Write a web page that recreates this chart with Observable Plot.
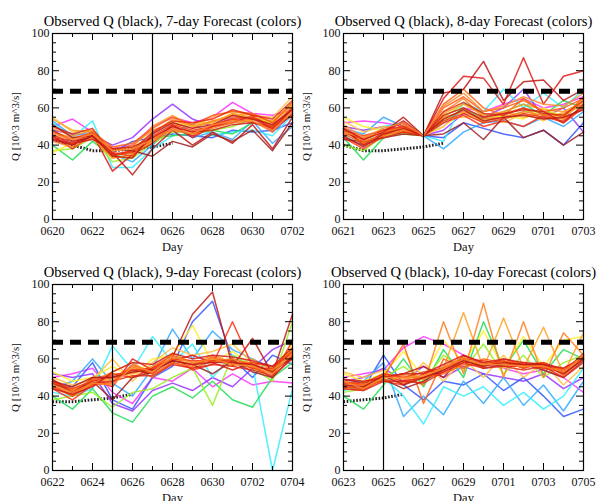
<!DOCTYPE html>
<html><head><meta charset="utf-8">
<script src="https://cdn.jsdelivr.net/npm/d3@7"></script>
<script src="https://cdn.jsdelivr.net/npm/@observablehq/plot@0.6"></script>
<style>
html,body{margin:0;padding:0;background:#fff;overflow:hidden;}
#wrap{position:relative;width:598px;height:501px;overflow:hidden;}
#wrap > div{position:absolute;}
svg text {font-family:"Liberation Serif","DejaVu Serif",serif !important;}
</style></head><body><div id="wrap"></div>
<script>
const titles = [
  "Observed Q (black), 7-day Forecast (colors)",
  "Observed Q (black), 8-day Forecast (colors)",
  "Observed Q (black), 9-day Forecast (colors)",
  "Observed Q (black), 10-day Forecast (colors)"
];
const days1 = ["0620","0621","0622","0623","0624","0625","0626","0627","0628","0629","0630","0701","0702"];
const days2 = ["0621","0622","0623","0624","0625","0626","0627","0628","0629","0630","0701","0702","0703"];
const days3 = ["0622","0623","0624","0625","0626","0627","0628","0629","0630","0701","0702","0703","0704"];
const days4 = ["0623","0624","0625","0626","0627","0628","0629","0630","0701","0702","0703","0704","0705"];
const ticks1 = ["0620","0622","0624","0626","0628","0630","0702"];
const ticks2 = ["0621","0623","0625","0627","0629","0701","0703"];
const ticks3 = ["0622","0624","0626","0628","0630","0702","0704"];
const ticks4 = ["0623","0625","0627","0629","0701","0703","0705"];
const yTickLabels = [0,20,40,60,80,100];
const obsDays = ["0620","0621","0622","0623","0624","0625","0626"];
const obsQ = [43,40,37,37,38,39,41];
const threshold = 69;
const forecastStart = "0625";
const colors = ["#ff33ff","#9933ff","#3355ff","#33aaff","#33eeff","#22dd55","#99ee22","#ffee22",
                "#ffc040","#ffa020","#ff8020","#ff6010","#ff3010","#e01818","#c01818","#a02020",
                "#ff9a2a","#ff7a1a","#ff5a10","#f03a10","#e02a15","#d01d1d","#b81818","#ff8a30"];
const q1 = [
  [50,54,47,38,40,50,55,52,55,63,57,56,59],
  [48,46,45,40,44,54,62,54,50,55,55,47,57],
  [44,42,44,36,42,44,46,45,44,48,47,48,52],
  [53,45,47,35,31,40,50,44,47,43,53,41,50],
  [52,44,53,28,28,38,45,52,45,47,48,45,56],
  [40,32,42,34,36,44,45,46,48,46,52,50,56],
  [37,38,44,31,33,41,47,47,48,50,54,52,62],
  [36,41,44,33,34,43,50,52,52,57,54,53,62],
  [55,47,48,35,36,47,53,50,55,58,56,55,66],
  [54,48,47,38,39,50,56,50,53,56,57,52,62],
  [47,44,46,37,40,48,52,49,53,55,55,51,60],
  [44,41,45,34,37,44,50,47,50,53,54,49,59],
  [46,40,47,35,36,43,49,45,51,54,52,50,57],
  [45,38,46,26,35,41,51,44,50,52,56,48,60],
  [43,40,45,36,24,38,48,40,47,41,51,38,55],
  [48,42,44,38,37,34,42,39,46,42,48,37,52],
  [49,45,48,37,38,46,54,50,52,57,55,53,61],
  [42,39,44,33,35,42,48,46,49,52,53,47,58],
  [47,43,47,39,41,49,55,51,56,58,57,52,63],
  [45,42,46,36,34,45,51,48,50,54,55,50,60],
  [50,46,49,35,37,47,53,52,54,59,56,54,64],
  [43,41,43,38,39,44,50,47,48,51,52,49,56],
  [51,44,45,34,33,46,52,49,51,56,54,51,59],
  [46,43,46,37,38,43,49,46,51,53,53,48,58]
];
const q2 = [
  [52,53,52,50,45,50,60,58,62,65,60,62,66],
  [50,48,50,49,45,48,57,55,60,70,55,60,47],
  [47,44,48,48,45,44,52,49,46,44,48,40,52],
  [49,46,55,50,45,38,47,52,53,50,55,50,58],
  [45,40,50,52,45,42,63,58,70,60,68,60,70],
  [44,32,44,47,45,52,60,54,58,62,56,64,60],
  [40,37,45,46,45,55,62,57,55,58,58,56,62],
  [55,50,48,47,45,50,58,53,56,54,60,55,65],
  [53,47,50,48,45,54,55,56,52,57,53,58,63],
  [48,42,48,49,45,56,60,52,58,55,57,54,64],
  [46,44,47,48,45,58,65,55,57,60,54,57,62],
  [48,41,46,47,45,62,70,60,56,65,58,55,66],
  [44,38,45,50,45,52,56,50,53,50,56,52,60],
  [47,43,48,52,45,65,77,76,62,87,62,77,80],
  [49,40,47,55,45,68,70,85,64,74,75,64,70],
  [43,42,44,46,45,46,52,43,55,44,48,40,47],
  [47,44,47,49,45,57,62,56,58,62,59,58,63],
  [50,42,45,48,45,55,58,54,55,58,56,54,60],
  [46,41,46,51,45,60,66,58,60,64,58,60,65],
  [48,45,48,50,45,53,57,52,54,57,55,53,61],
  [44,40,44,47,45,58,63,57,56,60,57,56,64],
  [49,43,47,53,45,56,60,55,57,59,58,52,62],
  [45,39,46,49,45,54,59,53,55,56,54,55,59],
  [51,44,49,52,45,61,68,58,61,66,62,61,68]
];
const q3 = [
  [50,52,55,42,36,50,48,55,45,52,46,48,47],
  [52,50,52,36,32,43,47,43,50,45,55,65,70],
  [46,45,58,38,33,50,56,80,91,60,50,62,57],
  [44,48,60,47,40,55,76,60,75,65,60,55,60],
  [42,40,44,67,54,72,58,68,50,62,57,0,44],
  [40,33,44,31,26,40,45,39,48,38,34,50,58],
  [38,40,42,34,42,44,50,55,35,62,55,48,80],
  [53,48,50,56,50,60,62,78,58,64,56,54,68],
  [50,46,49,60,48,58,66,62,64,68,58,55,65],
  [47,44,48,53,58,52,63,58,60,56,60,54,66],
  [49,43,47,50,53,55,60,57,62,58,55,52,64],
  [45,41,46,48,56,50,58,55,59,60,57,53,62],
  [44,38,46,52,50,55,62,54,57,80,56,50,70],
  [48,42,49,45,60,54,59,62,58,54,58,56,63],
  [46,40,50,50,54,52,61,84,96,56,71,52,84],
  [47,42,48,38,50,53,59,57,52,59,53,50,61],
  [46,41,47,49,55,53,60,57,60,58,57,53,63],
  [48,43,49,52,52,56,62,58,58,60,56,54,65],
  [45,40,46,47,57,52,58,56,61,57,58,52,62],
  [47,44,48,51,54,55,60,59,59,59,55,55,64],
  [49,42,47,48,51,51,57,55,57,56,54,51,60],
  [44,41,45,53,58,57,63,60,62,61,59,56,66],
  [48,45,50,50,53,54,59,57,58,58,57,53,61],
  [46,42,47,46,56,53,61,58,60,57,56,52,63]
];
const q4 = [
  [50,52,54,66,72,68,62,58,55,52,54,50,42],
  [48,50,55,48,56,50,56,52,50,48,52,44,50],
  [45,44,62,46,38,48,46,52,43,50,40,29,33],
  [47,48,58,29,40,30,48,36,50,35,46,32,48],
  [43,45,50,40,25,45,40,45,35,42,33,40,55],
  [40,33,46,60,45,65,50,80,55,70,52,65,60],
  [42,44,50,56,48,62,54,68,52,62,50,58,62],
  [52,48,52,64,50,70,58,75,55,72,56,70,72],
  [53,50,54,46,58,48,60,50,62,50,58,46,56],
  [48,46,50,52,50,55,85,55,82,55,77,52,74],
  [46,45,52,50,46,80,52,90,50,80,50,74,62],
  [44,43,50,68,36,60,55,60,58,58,55,55,60],
  [47,46,48,46,52,55,60,56,60,57,58,54,61],
  [45,44,51,48,50,53,58,58,56,56,57,52,60],
  [49,47,50,52,56,50,62,57,59,55,58,53,62],
  [46,45,49,44,48,54,60,55,57,57,54,50,59],
  [46,45,50,49,51,54,59,57,58,56,57,52,61],
  [48,46,51,51,49,56,61,58,57,58,56,54,62],
  [45,44,49,47,50,52,57,56,59,55,58,51,60],
  [47,47,52,50,53,55,60,59,57,57,55,53,63],
  [44,43,48,48,47,53,58,55,56,54,56,50,58],
  [49,48,50,52,52,57,62,58,60,58,57,55,61],
  [46,45,51,46,50,54,59,56,58,57,57,52,60],
  [48,44,50,50,51,55,60,57,57,56,56,53,62]
];

const parse = s => new Date(Date.UTC(2000, +s.slice(0,2)-1, +s.slice(2)));
const FONT = "'Liberation Serif', 'DejaVu Serif', serif";

function panel(title, days, ticks, q) {
  const W = 240, H = 186;
  const dates = days.map(parse);
  const x0 = dates[0], x1 = dates[dates.length-1];
  const obs = obsDays.map((d,i)=>({date:parse(d), q:obsQ[i]})).filter(d=>d.date>=x0 && d.date<=x1);
  const tickDates = ticks.map(parse);
  const minorDates = dates.filter(d=>!tickDates.some(t=>+t===+d));
  const yMinor = d3.range(0,101,5).filter(v=>v%20);
  return Plot.plot({
    width: 298, height: 250,
    marginLeft: 52, marginRight: 6, marginTop: 33, marginBottom: 31,
    style: {fontFamily:FONT, fontSize:"12px", color:"#111", overflow:"visible", background:"transparent"},
    x: {type:"utc", domain:[x0,x1], label:null},
    y: {domain:[0,100], label:null},
    marks: [
      Plot.line(obs,{x:"date",y:"q",stroke:"#222",strokeWidth:3,strokeDasharray:"1.6,1.6",strokeLinecap:"butt",strokeLinejoin:"miter"}),
      ...q.map((vals,m)=>Plot.line(vals.map((v,i)=>({date:dates[i],q:v})),
        {x:"date",y:"q",stroke:colors[m],strokeWidth:1.5,strokeOpacity:0.85})),
      Plot.ruleY([threshold],{stroke:"#000",strokeWidth:5,strokeDasharray:"11,7"}),
      Plot.ruleX([parse(forecastStart)],{stroke:"#000",strokeWidth:1.2}),
      Plot.frame({stroke:"#000",strokeWidth:1.2}),
      Plot.tickY(yTickLabels,{y:d=>d,insetRight:W-7,stroke:"#000"}),
      Plot.tickY(yTickLabels,{y:d=>d,insetLeft:W-7,stroke:"#000"}),
      Plot.tickY(yMinor,{y:d=>d,insetRight:W-4,stroke:"#000"}),
      Plot.tickY(yMinor,{y:d=>d,insetLeft:W-4,stroke:"#000"}),
      Plot.tickX(tickDates,{x:d=>d,insetTop:H-7,stroke:"#000"}),
      Plot.tickX(tickDates,{x:d=>d,insetBottom:H-7,stroke:"#000"}),
      Plot.tickX(minorDates,{x:d=>d,insetTop:H-4,stroke:"#000"}),
      Plot.tickX(minorDates,{x:d=>d,insetBottom:H-4,stroke:"#000"}),
      Plot.axisX({ticks:tickDates,tickFormat:d3.utcFormat("%m%d"),tickSize:0,tickPadding:7,label:null,fontFamily:FONT,fontSize:12}),
      Plot.axisY({ticks:yTickLabels,tickSize:0,tickPadding:3,label:null,fontFamily:FONT,fontSize:12}),
      Plot.text([title],{frameAnchor:"top",dy:-12,lineAnchor:"middle",textAnchor:"middle",fontSize:14.6,fill:"#000",fontFamily:FONT}),
      Plot.text(["Day"],{frameAnchor:"bottom",dy:27,lineAnchor:"middle",textAnchor:"middle",fontSize:12.5,fill:"#111",fontFamily:FONT}),
      Plot.text(["Q [10^3 m^3/s]"],{frameAnchor:"left",dx:-37,rotate:-90,textAnchor:"middle",lineAnchor:"middle",fontSize:11,fill:"#111",fontFamily:FONT})
    ]
  });
}

const wrap = document.getElementById("wrap");
const panels = [
  [titles[0], days1, ticks1, q1, 0, 0],
  [titles[1], days2, ticks2, q2, 291, 0],
  [titles[2], days3, ticks3, q3, 0, 251],
  [titles[3], days4, ticks4, q4, 291, 251]
];
for (const [t, d, tk, q, left, top] of panels) {
  const div = document.createElement("div");
  div.style.left = left + "px";
  div.style.top = top + "px";
  div.appendChild(panel(t, d, tk, q));
  wrap.appendChild(div);
}
</script>
</body></html>
